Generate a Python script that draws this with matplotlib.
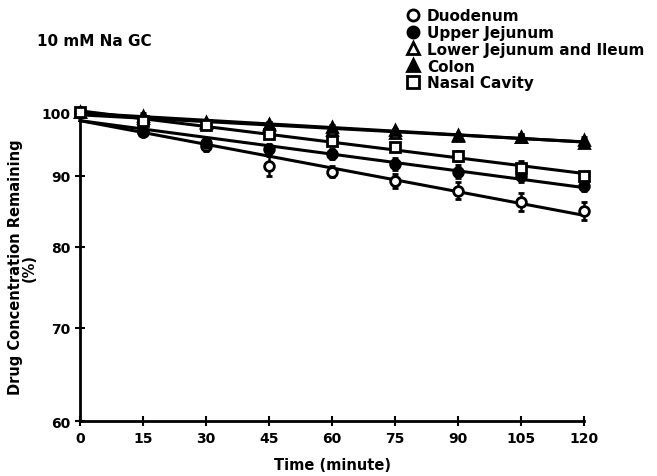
import numpy as np
import matplotlib
matplotlib.use('Agg')
import matplotlib.pyplot as plt
from matplotlib.lines import Line2D
from matplotlib.ticker import FixedLocator, FixedFormatter, NullLocator

## time points (minute)
time = [0, 15, 30, 45, 60, 75, 90, 105, 120]

## drug concentration remaining (%)
duodenum = [100, 96.7, 94.6, 91.5, 90.6, 89.2, 87.8, 86.2, 84.9]
upper_jejunum = [100, 96.8, 95.0, 94.1, 93.3, 91.8, 90.6, 89.9, 88.5]
lower_jejunum = [100, 99.0, 98.2, 97.8, 97.0, 96.6, 96.1, 95.9, 95.5]
colon = [100, 99.3, 98.3, 98.0, 97.5, 97.0, 96.2, 96.0, 95.0]
nasal = [100, 98.6, 97.8, 96.4, 95.3, 94.4, 93.0, 91.2, 90.0]

## standard deviations
duodenum_err = [0, 0.5, 0.8, 1.5, 0.8, 1.0, 1.2, 1.3, 1.3]
upper_err = [0, 0.5, 0.5, 0.7, 0.7, 0.9, 1.0, 0.8, 0.8]
lower_err = [0, 0.5, 0.4, 0.5, 0.5, 0.4, 0.4, 0.5, 0.5]
colon_err = [0, 0.6, 0.4, 0.4, 0.4, 0.3, 0.3, 0.4, 0.4]
nasal_err = [0, 0.5, 0.5, 0.6, 0.6, 0.6, 0.8, 1.0, 0.6]

labels = ['Duodenum', 'Upper Jejunum', 'Lower Jejunum and Ileum', 'Colon', 'Nasal Cavity']
yticks = [60, 70, 80, 90, 100]
xticks = [0, 15, 30, 45, 60, 75, 90, 105, 120]

plt.rcParams['font.family'] = 'DejaVu Sans'
plt.rcParams['font.weight'] = 'bold'

fig = plt.figure(figsize=(6.57, 4.77), dpi=100)
ax = fig.add_axes([0.1218, 0.1153, 0.7671, 0.6478])

series = [
    (duodenum, duodenum_err, 'o', 'white'),
    (upper_jejunum, upper_err, 'o', 'black'),
    (lower_jejunum, lower_err, '^', 'white'),
    (colon, colon_err, '^', 'black'),
    (nasal, nasal_err, 's', 'white'),
]

t = np.array(time)
for vals, err, mk, fc in series:
    ## first order fit (straight line on the log axis)
    slope, icpt = np.polyfit(t, np.log(vals), 1)
    ax.plot(t, np.exp(icpt + slope * t), color='black', lw=2.2, zorder=2, clip_on=False)
    ax.errorbar(time, vals, yerr=err, fmt=mk, mfc=fc, mec='black', mew=2,
                ms=7, ecolor='black', elinewidth=1.8, capsize=2.5, capthick=1.8,
                zorder=3, clip_on=False)

ax.set_yscale('log')
ax.set_ylim(60, 100)
ax.set_xlim(0, 120)
ax.yaxis.set_major_locator(FixedLocator(yticks))
ax.yaxis.set_major_formatter(FixedFormatter([str(v) for v in yticks]))
ax.yaxis.set_minor_locator(NullLocator())
ax.set_xticks(xticks)
ax.set_xticklabels([str(v) for v in xticks])

for s in ['top', 'right']:
    ax.spines[s].set_visible(False)
for s in ['left', 'bottom']:
    ax.spines[s].set_linewidth(2)
ax.tick_params(direction='inout', length=7, width=1.5, labelsize=10)

ax.set_xlabel('Time (minute)', fontsize=10.5, fontweight='bold', labelpad=9)
ax.set_ylabel('Drug Concentration Remaining\n(%)', fontsize=10.5, fontweight='bold',
              labelpad=3, linespacing=0.9)

fig.text(37 / 657, 1 - 42 / 477, '10 mM Na GC', fontsize=11, fontweight='bold', va='center')

handles = [Line2D([], [], ls='none', marker=mk, mfc=fc, mec='black', mew=2, ms=8)
           for _, _, mk, fc in series]
fig.legend(handles, labels, loc='upper left', bbox_to_anchor=(401 / 657, 1 - 3 / 477),
           frameon=False, handlelength=0.8, handletextpad=0.5, labelspacing=0.12,
           fontsize=11, borderaxespad=0)

fig.savefig('out.png', dpi=100)
